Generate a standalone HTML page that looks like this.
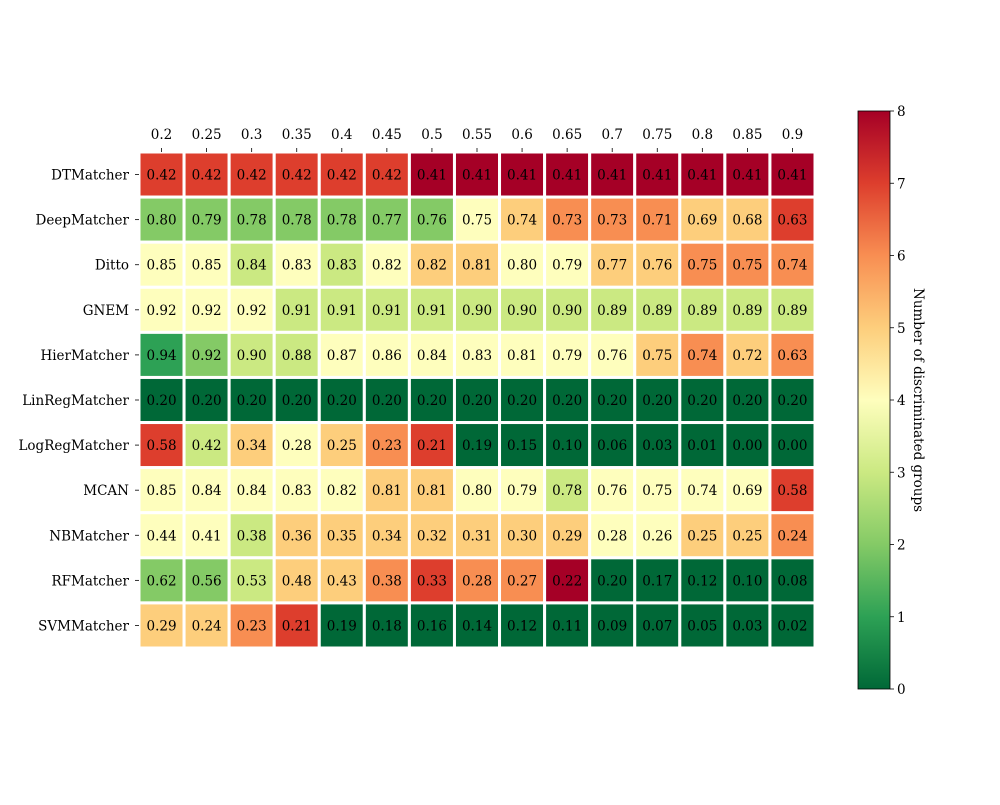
<!DOCTYPE html>
<html><head><meta charset="utf-8"><style>
html,body{margin:0;padding:0;background:#fff;}
svg text{font-family:"DejaVu Serif","Liberation Serif",serif;font-size:13.5px;fill:#000;}
</style></head><body>
<svg id="chart" width="1000" height="800" xmlns="http://www.w3.org/2000/svg">
<defs><linearGradient id="cbg" x1="0" y1="1" x2="0" y2="0">
<stop offset="0" stop-color="#006837"/><stop offset="0.125" stop-color="#2da155"/><stop offset="0.25" stop-color="#84ca66"/><stop offset="0.375" stop-color="#cbe982"/><stop offset="0.5" stop-color="#fefebd"/><stop offset="0.625" stop-color="#fdce7c"/><stop offset="0.75" stop-color="#f88e52"/><stop offset="0.875" stop-color="#dd3e2d"/><stop offset="1" stop-color="#a50026"/>
</linearGradient></defs>
</svg>
<script>
const columns=["0.2","0.25","0.3","0.35","0.4","0.45","0.5","0.55","0.6","0.65","0.7","0.75","0.8","0.85","0.9"];
const rows=["DTMatcher","DeepMatcher","Ditto","GNEM","HierMatcher","LinRegMatcher","LogRegMatcher","MCAN","NBMatcher","RFMatcher","SVMMatcher"];
const values=[
["0.42","0.42","0.42","0.42","0.42","0.42","0.41","0.41","0.41","0.41","0.41","0.41","0.41","0.41","0.41"],
["0.80","0.79","0.78","0.78","0.78","0.77","0.76","0.75","0.74","0.73","0.73","0.71","0.69","0.68","0.63"],
["0.85","0.85","0.84","0.83","0.83","0.82","0.82","0.81","0.80","0.79","0.77","0.76","0.75","0.75","0.74"],
["0.92","0.92","0.92","0.91","0.91","0.91","0.91","0.90","0.90","0.90","0.89","0.89","0.89","0.89","0.89"],
["0.94","0.92","0.90","0.88","0.87","0.86","0.84","0.83","0.81","0.79","0.76","0.75","0.74","0.72","0.63"],
["0.20","0.20","0.20","0.20","0.20","0.20","0.20","0.20","0.20","0.20","0.20","0.20","0.20","0.20","0.20"],
["0.58","0.42","0.34","0.28","0.25","0.23","0.21","0.19","0.15","0.10","0.06","0.03","0.01","0.00","0.00"],
["0.85","0.84","0.84","0.83","0.82","0.81","0.81","0.80","0.79","0.78","0.76","0.75","0.74","0.69","0.58"],
["0.44","0.41","0.38","0.36","0.35","0.34","0.32","0.31","0.30","0.29","0.28","0.26","0.25","0.25","0.24"],
["0.62","0.56","0.53","0.48","0.43","0.38","0.33","0.28","0.27","0.22","0.20","0.17","0.12","0.10","0.08"],
["0.29","0.24","0.23","0.21","0.19","0.18","0.16","0.14","0.12","0.11","0.09","0.07","0.05","0.03","0.02"]];
const groups=[
[7,7,7,7,7,7,8,8,8,8,8,8,8,8,8],
[2,2,2,2,2,2,2,4,5,6,6,6,5,5,7],
[4,4,3,4,3,4,5,5,4,4,5,5,6,6,6],
[4,4,4,3,3,3,3,3,3,3,3,3,3,3,3],
[1,2,3,3,4,4,4,4,4,4,4,5,6,5,6],
[0,0,0,0,0,0,0,0,0,0,0,0,0,0,0],
[7,3,5,4,5,6,7,0,0,0,0,0,0,0,0],
[4,4,4,4,4,5,5,4,4,3,4,4,4,4,7],
[4,4,3,5,5,5,5,5,5,5,4,4,5,5,6],
[2,2,3,5,5,6,7,6,6,8,0,0,0,0,0],
[5,5,6,7,0,0,0,0,0,0,0,0,0,0,0]];
const cbTicks=[0,1,2,3,4,5,6,7,8];
const palette=["#006837","#2da155","#84ca66","#cbe982","#fefebd","#fdce7c","#f88e52","#dd3e2d","#a50026"];

const svg=document.getElementById('chart');
const NS="http://www.w3.org/2000/svg";
const X0=139,Y0=152,CW=676/15,CH=496/11;
const xPos=i=>X0+i*CW, yPos=j=>Y0+j*CH;
const CBX=858,CBW=32,CBT=111,CBB=689,VMAX=8;
const cbY=v=>CBB-(v/VMAX)*(CBB-CBT);
function mk(tag,attrs,txt){const e=document.createElementNS(NS,tag);for(const k in attrs)e.setAttribute(k,attrs[k]);if(txt!==undefined)e.textContent=txt;svg.appendChild(e);return e;}

rows.forEach((r,j)=>{
  columns.forEach((c,i)=>{
    const rect=mk('rect',{x:xPos(i),y:yPos(j),width:CW,height:CH,fill:palette[groups[j][i]],stroke:'#fff','stroke-width':3});
    
    
    const t=mk('text',{x:xPos(i)+CW/2,y:yPos(j)+CH/2+5,'text-anchor':'middle'},values[j][i]);
    
    
  });
  const tk=mk('line',{x1:xPos(0)-4,x2:xPos(0),y1:yPos(j)+CH/2,y2:yPos(j)+CH/2,stroke:'#000','stroke-width':0.8});
  
  
  const l=mk('text',{x:xPos(0)-10,y:yPos(j)+CH/2+5,'text-anchor':'end'},r);
  
  
});
columns.forEach((c,i)=>{
  const tk=mk('line',{x1:xPos(i)+CW/2,x2:xPos(i)+CW/2,y1:Y0-4,y2:Y0,stroke:'#000','stroke-width':0.8});
  
  
  const l=mk('text',{x:xPos(i)+CW/2,y:Y0-13,'text-anchor':'middle'},c);
  
  
});
const cb=mk('rect',{x:CBX,y:CBT,width:CBW,height:CBB-CBT,fill:'url(#cbg)',stroke:'#000','stroke-width':0.8});


cbTicks.forEach(v=>{
  const tk=mk('line',{x1:CBX+CBW,x2:CBX+CBW+4,y1:cbY(v),y2:cbY(v),stroke:'#000','stroke-width':0.8});
  
  
  const l=mk('text',{x:CBX+CBW+7,y:cbY(v)+5},String(v));
  
  
});
const ttl=mk('text',{x:0,y:0,'text-anchor':'middle',transform:'translate(914,400) rotate(90)'},'Number of discriminated groups');


</script>
</body></html>
